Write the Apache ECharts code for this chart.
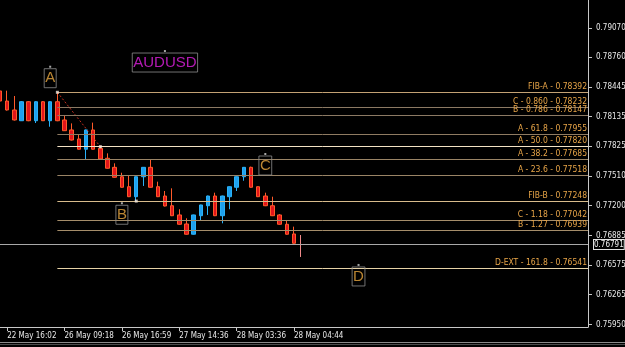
<!DOCTYPE html>
<html><head><meta charset="utf-8">
<script src="https://cdn.jsdelivr.net/npm/echarts@6/dist/echarts.min.js"></script>
<style>html,body{margin:0;padding:0;background:#000;}#c{width:625px;height:347px;}</style>
</head><body><div id="c"></div>
<script>
// ---- data ----
const opens  = [0.78406,0.78300,0.78206,0.78093,0.78293,0.78093,0.78293,0.78093,0.78293,0.78101,0.77996,0.77901,0.77793,0.77996,0.77803,0.77698,0.77603,0.77504,0.77399,0.77294,0.77504,0.77603,0.77399,0.77301,0.77199,0.77102,0.77007,0.76899,0.77094,0.77199,0.77301,0.77094,0.77294,0.77393,0.77504,0.77603,0.77399,0.77301,0.77199,0.77102,0.77004,0.76902,0.76791];
const closes = [0.78300,0.78206,0.78101,0.78293,0.78093,0.78293,0.78093,0.78293,0.78093,0.77988,0.77890,0.77793,0.77996,0.77793,0.77691,0.77593,0.77498,0.77393,0.77294,0.77504,0.77603,0.77393,0.77294,0.77196,0.77094,0.77004,0.76899,0.77102,0.77207,0.77301,0.77094,0.77301,0.77399,0.77504,0.77603,0.77393,0.77294,0.77199,0.77094,0.77004,0.76899,0.76804,0.76791];
const lows   = [0.78290,0.78200,0.78095,0.78090,0.78088,0.78069,0.78090,0.78030,0.78088,0.77985,0.77885,0.77790,0.77687,0.77790,0.77688,0.77590,0.77495,0.77390,0.77290,0.77248,0.77407,0.77390,0.77290,0.77192,0.77090,0.77000,0.76895,0.76895,0.77042,0.77102,0.77090,0.77014,0.77162,0.77354,0.77462,0.77390,0.77290,0.77195,0.77090,0.77000,0.76895,0.76800,0.76660];
const highs  = [0.78430,0.78409,0.78353,0.78300,0.78300,0.78298,0.78300,0.78298,0.78392,0.78143,0.78065,0.77953,0.78000,0.78073,0.77830,0.77750,0.77645,0.77546,0.77512,0.77508,0.77606,0.77680,0.77452,0.77354,0.77382,0.77162,0.77067,0.77105,0.77210,0.77305,0.77336,0.77305,0.77402,0.77508,0.77606,0.77610,0.77402,0.77336,0.77294,0.77110,0.77049,0.76979,0.76891];
const barCount = 83;
const categories = Array.from({length: barCount}, (_, i) => String(i));

const xTickIndex  = [1, 9, 17, 25, 33, 41];
const xTickLabels = ['22 May 16:02','26 May 09:18','26 May 16:59','27 May 14:36','28 May 03:36','28 May 04:44'];
const yTickValues = [0.7595,0.76265,0.76575,0.76885,0.772,0.7751,0.77825,0.78135,0.78445,0.7876,0.7907];

const fibNames  = ['FIB-A','C - 0.860','B - 0.786','A - 61.8','A - 50.0','A - 38.2','A - 23.6','FIB-B','C - 1.18','B - 1.27','D-EXT - 161.8'];
const fibValues = [0.78392,0.78232,0.78147,0.77955,0.77820,0.77685,0.77518,0.77248,0.77042,0.76939,0.76541];
const fibStartIndex = 8;
const currentPrice = 0.76791;

const pointA = [8, 0.78392];
const pointMid = [13.5, 0.77820];
const pointB = [19, 0.77248];

const textNames = ['A','B','C','D','AUDUSD'];
const textX = [7, 16.8, 36.85, 49.8, 22.8];
const textY = [0.78661, 0.77225, 0.77743, 0.76576, 0.78826];

// ---- styles ----
const fibColors = ['#c4a274','#8c7a64','#8c7a64','#8f7b62','#f3e2c4','#9a8466','#9a8466','#d8bc8c','#a58d6a','#a58d6a','#e6d2a6'];
const textColors = ['#e8a840','#e8a840','#e8a840','#e8a840','#e020e0'];
const labelFont = 'DejaVu Sans Condensed';

const candleData = opens.map((o, i) => {
  const item = {value: [o, closes[i], lows[i], highs[i]]};
  if (o === closes[i]) item.itemStyle = {color: '#f08a8a', borderColor: '#f08a8a', color0: '#f08a8a', borderColor0: '#f08a8a'};
  return item;
});

const fibLines = fibValues.map((v, i) => [
  {coord: [fibStartIndex, v], lineStyle: {color: fibColors[i]},
   label: {formatter: fibNames[i] + ' - ' + v.toFixed(5)}},
  {coord: [barCount - 1, v]}
]);
const priceLine = [[
  {coord: [0, currentPrice]},
  {coord: [barCount - 1, currentPrice]}
]];

const chart = echarts.init(document.getElementById('c'), null, {renderer: 'canvas'});
chart.setOption({
  backgroundColor: '#000',
  animation: false,
  grid: {left: 0, right: 37, top: 0, bottom: 20, containLabel: false, outerBoundsMode: 'none'},
  xAxis: {
    type: 'category', data: categories, boundaryGap: false,
    axisLine: {lineStyle: {color: '#c8c8c8', width: 1}},
    axisTick: {show: true, length: 4, lineStyle: {color: '#c8c8c8'},
               interval: (idx) => xTickIndex.indexOf(idx) >= 0},
    axisLabel: {interval: (idx) => xTickIndex.indexOf(idx) >= 0,
                formatter: (val, idx) => { const k = xTickIndex.indexOf(Number(val)); return k >= 0 ? xTickLabels[k] : ''; },
                align: 'left', margin: 5, color: '#e8e8e8', fontFamily: labelFont, fontSize: 8},
    splitLine: {show: false}
  },
  yAxis: {
    type: 'value', position: 'right', min: 0.759235, max: 0.793627, scale: true,
    axisLine: {show: true, lineStyle: {color: '#c8c8c8', width: 1}},
    axisTick: {show: true, length: 4, customValues: yTickValues, lineStyle: {color: '#c8c8c8'}},
    axisLabel: {customValues: yTickValues, formatter: (v) => v.toFixed(5), margin: 8,
                color: '#e8e8e8', fontFamily: labelFont, fontSize: 8},
    splitLine: {show: false}
  },
  series: [
    {
      type: 'line', data: [], z: 1, silent: true,
      markLine: {
        silent: true, symbol: ['none', 'none'], animation: false,
        lineStyle: {type: 'solid', width: 1},
        label: {position: 'insideEndTop', distance: [1, 1], color: '#e8a548', fontFamily: labelFont, fontSize: 8.5},
        data: fibLines
      }
    },
    {
      type: 'line', data: [], z: 2, silent: true,
      markLine: {
        silent: true, symbol: ['none', 'none'], animation: false,
        lineStyle: {type: 'solid', width: 1, color: '#a8a8a8'},
        label: {position: 'end', distance: 6, formatter: currentPrice.toFixed(5), color: '#f0f0f0',
                backgroundColor: '#000', borderColor: '#e0e0e0', borderWidth: 1, padding: [1, 0, 0, 0],
                fontFamily: labelFont, fontSize: 8},
        data: priceLine
      }
    },
    {
      type: 'candlestick', z: 3, barWidth: 4,
      data: candleData,
      itemStyle: {color: '#1ea0ee', borderColor: '#2ab2f8', color0: '#e3141a', borderColor0: '#ff5a2a', borderWidth: 1}
    },
    {
      type: 'line', z: 4, data: [pointA, pointMid], symbol: 'none',
      lineStyle: {color: '#c83020', width: 1, type: [2, 2]}
    },
    {
      type: 'scatter', z: 5, symbol: 'rect', symbolSize: 3,
      itemStyle: {color: '#f4e8e0'},
      data: [pointA, pointMid, pointB]
    },
    {
      type: 'scatter', z: 6, symbol: 'rect', symbolSize: 2,
      itemStyle: {color: '#d0d0d0'},
      data: textNames.map((t, i) => ({
        value: [textX[i], textY[i]],
        label: {show: true, position: 'bottom', distance: 1, formatter: t, color: textColors[i],
                fontFamily: 'Liberation Sans', fontSize: 15, lineHeight: 19,
                borderColor: '#8c8c8c', borderWidth: 1, padding: [0, 1, 0, 1]}
      }))
    }
  ],
  graphic: [
    {type: 'rect', shape: {x: 0, y: 342, width: 625, height: 1}, style: {fill: '#8a8a8a'}, silent: true},
    {type: 'rect', shape: {x: 0, y: 344, width: 625, height: 1}, style: {fill: '#4a4a4a'}, silent: true}
  ]
});
</script>
</body></html>
